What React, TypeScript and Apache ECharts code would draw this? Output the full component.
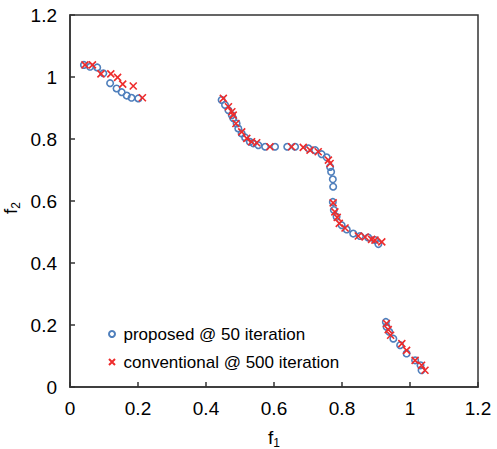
import React, { useEffect, useRef } from "react";
import * as echarts from "echarts";

const proposedF1 = [
  0.041, 0.059, 0.08, 0.098, 0.118, 0.137, 0.152, 0.167, 0.181, 0.201,
  0.446, 0.456, 0.466, 0.476, 0.48, 0.49, 0.495, 0.505, 0.515, 0.529, 0.539, 0.554, 0.574, 0.603, 0.639, 0.662,
  0.701, 0.721, 0.74, 0.755, 0.765, 0.768, 0.773, 0.774, 0.773, 0.776, 0.784, 0.799, 0.814, 0.833, 0.853, 0.877, 0.897, 0.907,
  0.929, 0.931, 0.939, 0.951, 0.971, 0.99, 1.015, 1.031, 1.034,
];
const proposedF2 = [
  1.039, 1.033, 1.031, 1.012, 0.98, 0.963, 0.951, 0.94, 0.933, 0.931,
  0.926, 0.91, 0.893, 0.877, 0.867, 0.85, 0.834, 0.818, 0.805, 0.791, 0.786, 0.78, 0.775, 0.775, 0.775, 0.775,
  0.77, 0.764, 0.751, 0.741, 0.71, 0.694, 0.67, 0.646, 0.597, 0.571, 0.549, 0.522, 0.508, 0.495, 0.487, 0.482, 0.474, 0.461,
  0.21, 0.194, 0.178, 0.156, 0.135, 0.108, 0.086, 0.07, 0.054,
];

const conventionalF1 = [
  0.044, 0.066, 0.091, 0.12, 0.14, 0.155, 0.186, 0.213,
  0.451, 0.466, 0.476, 0.48, 0.488, 0.505, 0.52, 0.534, 0.549, 0.588, 0.652, 0.686, 0.706, 0.73, 0.76, 0.765,
  0.774, 0.779, 0.786, 0.792, 0.809, 0.848, 0.868, 0.887, 0.897, 0.917,
  0.931, 0.936, 0.943, 0.976, 0.99, 1.015, 1.034, 1.044,
];
const conventionalF2 = [
  1.039, 1.039, 1.01, 1.01, 0.999, 0.977, 0.971, 0.933,
  0.931, 0.904, 0.888, 0.877, 0.85, 0.823, 0.802, 0.791, 0.788, 0.775, 0.775, 0.773, 0.764, 0.759, 0.732, 0.721,
  0.594, 0.565, 0.547, 0.528, 0.513, 0.487, 0.484, 0.476, 0.474, 0.468,
  0.205, 0.185, 0.167, 0.14, 0.118, 0.086, 0.07, 0.054,
];

const seriesNames = ["proposed @ 50 iteration", "conventional @ 500 iteration"];
const axisTicks = [0, 0.2, 0.4, 0.6, 0.8, 1, 1.2];

const FONT = "'Liberation Sans', Arial, sans-serif";
const AXIS_COLOR = "#333";
const BLUE = "#4f7fbc";
const RED = "#ee2b2b";
const X_SYMBOL = "path://M0,0L10,10M10,0L0,10";

export default function App() {
  const ref = useRef<HTMLDivElement>(null);
  useEffect(() => {
    if (!ref.current) return;
    const chart = echarts.init(ref.current, undefined, { renderer: "svg" });
    const pts = (xs: number[], ys: number[]) => xs.map((x, i) => [x, ys[i]]);
    const nameStyle = {
      fontFamily: FONT,
      fontSize: 19,
      color: "#000",
      lineHeight: 24,
      rich: {
        sub: { fontFamily: FONT, fontSize: 12, color: "#000", verticalAlign: "bottom", lineHeight: 24 },
      },
    };
    const axisCommon = {
      min: axisTicks[0],
      max: axisTicks[axisTicks.length - 1],
      interval: 0.2,
      splitLine: { show: false },
      axisLine: { show: true, lineStyle: { color: AXIS_COLOR, width: 1.5 } },
      axisTick: { show: true, inside: true, length: 5, lineStyle: { color: AXIS_COLOR, width: 1.5 } },
      axisLabel: {
        color: "#000",
        fontFamily: FONT,
        fontSize: 19,
        formatter: (v: number) => String(Math.round(v * 10) / 10),
      },
      nameLocation: "middle" as const,
      nameMoveOverlap: false,
      nameTextStyle: nameStyle,
    };
    chart.setOption({
      animation: false,
      backgroundColor: "#fff",
      grid: {
        left: 70,
        right: 19,
        top: 15,
        bottom: 62,
        containLabel: false,
        outerBoundsMode: "none",
        show: true,
        borderColor: AXIS_COLOR,
        borderWidth: 1.5,
        backgroundColor: "transparent",
      },
      legend: {
        orient: "vertical",
        left: 103,
        top: 319,
        itemWidth: 13,
        itemHeight: 6,
        itemGap: 8,
        textStyle: { fontFamily: FONT, fontSize: 17, color: "#000", lineHeight: 20 },
        data: [
          { name: seriesNames[0], icon: "circle" },
          { name: seriesNames[1], icon: X_SYMBOL },
        ],
      },
      xAxis: {
        ...axisCommon,
        type: "value",
        axisLabel: { ...axisCommon.axisLabel, margin: 12 },
        name: "f{sub|1}",
        nameGap: 38,
      },
      yAxis: {
        ...axisCommon,
        type: "value",
        axisLabel: { ...axisCommon.axisLabel, margin: 13 },
        name: "f{sub|2}",
        nameGap: 48,
        nameTextStyle: { ...nameStyle, padding: [0, 14, 0, 0] },
      },
      series: [
        {
          name: seriesNames[0],
          type: "scatter",
          symbol: "circle",
          symbolSize: 6.5,
          itemStyle: { color: "rgba(255,255,255,0)", borderColor: BLUE, borderWidth: 1.6, opacity: 1 },
          data: pts(proposedF1, proposedF2),
          z: 2,
        },
        {
          name: seriesNames[1],
          type: "scatter",
          symbol: X_SYMBOL,
          symbolSize: 7,
          itemStyle: { color: "rgba(255,255,255,0)", borderColor: RED, borderWidth: 1.6, opacity: 1 },
          data: pts(conventionalF1, conventionalF2),
          z: 3,
        },
      ],
    });
    return () => chart.dispose();
  }, []);
  return <div ref={ref} style={{ width: 497, height: 449, position: "absolute", left: 0, top: 0 }} />;
}
